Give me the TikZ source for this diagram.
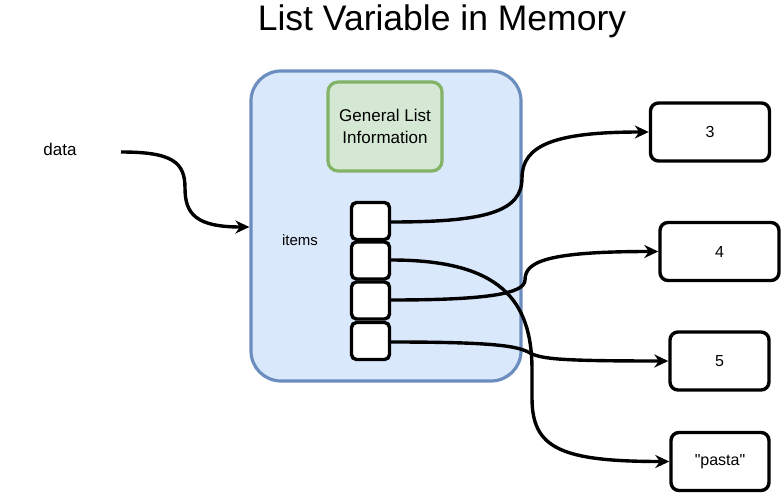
\documentclass[tikz,border=0pt]{standalone}
\usepackage{fontspec}
\setmainfont{Liberation Sans}
\newfontfamily\plainfont{Liberation Sans}[Ligatures=ResetAll]
\usetikzlibrary{arrows.meta}
\definecolor{blueFill}{HTML}{DAE8FC}
\definecolor{blueLine}{HTML}{6C8EBF}
\definecolor{greenFill}{HTML}{D5E8D4}
\definecolor{greenLine}{HTML}{82B366}
\begin{document}
\begin{tikzpicture}[x=1pt,y=-1pt,
  conn/.style={line width=3.4pt,-{Stealth[length=14pt,width=13pt,inset=4.5pt]}},
  slot/.style={draw=black,line width=3.4pt,fill=white,rounded corners=5pt,minimum width=38pt,minimum height=37pt,inner sep=0pt},
  valbox/.style={draw=black,line width=3.4pt,fill=white,rounded corners=8pt,minimum width=119pt,minimum height=58pt,inner sep=0pt,font=\fontsize{16}{19}\selectfont},
  lbl/.style={inner sep=0pt,anchor=base}
]
\useasboundingbox (0,0) rectangle (783,494);
% title
\node[lbl,font=\fontsize{35.5}{40}\selectfont] (title) at (442,31) {List Variable in Memory};
% big container
\node[draw=blueLine,fill=blueFill,line width=3.2pt,rounded corners=30pt,minimum width=270pt,minimum height=310pt,inner sep=0pt] (list) at (386,226) {};
% general info
\node[draw=greenLine,fill=greenFill,line width=3.2pt,rounded corners=10pt,minimum width=114pt,minimum height=89pt,inner sep=0pt,align=center,font=\fontsize{17}{22}\selectfont] (info) at (385,126.5) {General List\\Information};
% items label
\node[lbl,font=\fontsize{15}{18}\selectfont] (items) at (300,245.5) {items};
% slots
\node[slot] (s1) at (370.5,221) {};
\node[slot] (s2) at (370.5,260.5) {};
\node[slot] (s3) at (370.5,300.5) {};
\node[slot] (s4) at (370.5,341) {};
% values
\node[valbox] (v3) at (710,132) {3};
\node[valbox] (v4) at (719.5,251.5) {4};
\node[valbox,minimum width=99pt] (v5) at (719.5,361) {5};
\node[valbox,minimum width=98pt] (vp) at (720,461.5) {\plainfont "pasta"};
% data label
\node[lbl,font=\fontsize{17}{20}\selectfont] (data) at (60,156) {data};
\coordinate (dstart) at (121,152);
\coordinate (dend) at (list.west |- 0,227);
\draw[conn] (dstart) .. controls (172,152) and (185,162) .. (185,188)
  .. controls (185,214) and (196,227) .. (dend);
% connectors
\draw[conn] (s1.east |- 0,222) .. controls (485,222) and (522,212) .. (522,178)
  .. controls (522,145) and (555,132) .. (v3.west);
\draw[conn] (s3.east |- 0,300) .. controls (485,300) and (525,294) .. (525,280)
  .. controls (525,262) and (545,251.5) .. (v4.west);
\draw[conn] (s4.east |- 0,342) .. controls (495,342) and (518,346) .. (530,353)
  .. controls (542,359) and (560,361) .. (v5.west);
\draw[conn] (s2.east |- 0,260) .. controls (500,260) and (532,300) .. (532,370)
  -- (532,398) .. controls (532,448) and (560,461.5) .. (vp.west);
\end{tikzpicture}
\end{document}
